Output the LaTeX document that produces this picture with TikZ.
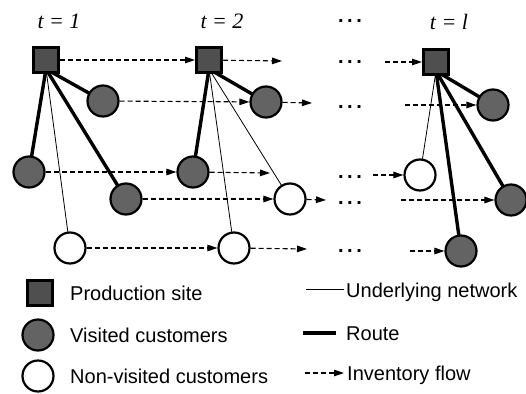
\documentclass[tikz,border=0pt]{standalone}
\usepackage{fontspec}
\setmainfont{Liberation Sans}
\newfontfamily\periodfont{Liberation Serif}
\usepackage{tikz}
\usetikzlibrary{arrows.meta,backgrounds}
\definecolor{SiteFill}{HTML}{4F4F4F}
\definecolor{VisitFill}{HTML}{636363}

\begin{document}
\begin{tikzpicture}[
    x=1pt,y=-1pt,
    every node/.style={font=\fontsize{20}{22}\selectfont},
    site/.style={draw,line width=3pt,fill=SiteFill,minimum size=25pt,inner sep=0pt},
    visited/.style={circle,draw,line width=2.2pt,fill=VisitFill,minimum size=31pt,inner sep=0pt},
    nonvisited/.style={visited,fill=white},
    period/.style={font=\periodfont\itshape\fontsize{22}{24}\selectfont},
    dots/.style={anchor=base,font=\bfseries\fontsize{20}{22}\selectfont},
    legend/.style={anchor=base west,inner sep=1pt},
    network/.style={line width=0.8pt},
    route/.style={line width=3.4pt},
    flow/.style={-{Triangle[length=10pt,width=6.5pt]},line width=1.1pt,dash pattern=on 5pt off 3pt}
  ]
  \useasboundingbox (0,0) rectangle (526,393);

  % period labels
  \node[period] (t1) at (59,21) {t = 1};
  \node[period] (t2) at (222,21) {t = 2};
  \node[dots] (d0) at (350,23) {.\hspace{3.5pt}.\hspace{3.5pt}.};
  \node[period] (tl) at (449,22) {t = l};

  % period 1
  \node[site] (p1) at (46,60) {};
  \node[visited] (a1) at (103,101) {};
  \node[visited] (b1) at (29,172) {};
  \node[visited] (c1) at (126,199) {};
  \node[nonvisited] (e1) at (70,248) {};

  % period 2
  \node[site] (p2) at (209,60) {};
  \node[visited] (a2) at (266,102) {};
  \node[visited] (b2) at (193,172) {};
  \node[nonvisited] (c2) at (290,199) {};
  \node[nonvisited] (e2) at (234,248) {};

  % period l
  \node[site] (pl) at (436,62) {};
  \node[visited] (al) at (493,105) {};
  \node[nonvisited] (bl) at (420,175) {};
  \node[visited] (cl) at (511,200) {};
  \node[visited] (el) at (461,251) {};

  % dots between periods
  \node[dots] (d1) at (350,64) {.\hspace{3.5pt}.\hspace{3.5pt}.};
  \node[dots] (d2) at (350,108) {.\hspace{3.5pt}.\hspace{3.5pt}.};
  \node[dots] (d3) at (350,178) {.\hspace{3.5pt}.\hspace{3.5pt}.};
  \node[dots] (d4) at (350,204) {.\hspace{3.5pt}.\hspace{3.5pt}.};
  \node[dots] (d5) at (350,252) {.\hspace{3.5pt}.\hspace{3.5pt}.};

  % network and routes, behind the nodes
  \begin{pgfonlayer}{background}
    \coordinate (o1) at ([yshift=-9pt]p1.center);
    \coordinate (o2) at ([yshift=-9pt]p2.center);
    \coordinate (ol) at ([yshift=-9pt]pl.center);
    \draw[route] (o1) -- (a1.center);
    \draw[route] (o1) -- (b1.center);
    \draw[route] (o1) -- (c1.center);
    \draw[network] (o1) -- (e1.center);
    \draw[route] (o2) -- (a2.center);
    \draw[route] (o2) -- (b2.center);
    \draw[network] (o2) -- (c2.center);
    \draw[network] (o2) -- (e2.center);
    \draw[route] (ol) -- (al.center);
    \draw[route] (ol) -- (cl.center);
    \draw[route] (ol) -- (el.center);
    \draw[network] (ol) -- (bl.center);
  \end{pgfonlayer}

  % inventory flows
  \coordinate (f0) at (282,61);
  \coordinate (g0) at (385,62);
  \coordinate (f1) at (312,103);
  \coordinate (g1) at (405,105);
  \coordinate (f2) at (270,173);
  \coordinate (g2) at (373,175);
  \coordinate (f3) at (326,200);
  \coordinate (g3) at (401,200);
  \coordinate (f4) at (307,249);
  \coordinate (g4) at (410,251);
  \draw[flow] (p1) -- (p2);
  \draw[flow] (p2) -- (f0);
  \draw[flow] (g0) -- (pl);
  \draw[flow] (a1) -- (a2);
  \draw[flow] (a2) -- (f1);
  \draw[flow] (g1) -- (al);
  \draw[flow] (b1) -- (b2);
  \draw[flow] (b2) -- (f2);
  \draw[flow] (g2) -- (bl);
  \draw[flow] (c1) -- (c2);
  \draw[flow] (c2) -- (f3);
  \draw[flow] (g3) -- (cl);
  \draw[flow] (e1) -- (e2);
  \draw[flow] (e2) -- (f4);
  \draw[flow] (g4) -- (el);

  % legend
  \node[site] (ls) at (40,293) {};
  \node[legend] (lst) at (69,300) {Production site};
  \node[visited] (lv) at (38,335) {};
  \node[legend] (lvt) at (69,342) {Visited customers};
  \node[nonvisited] (ln) at (38,376) {};
  \node[legend] (lnt) at (69,383) {Non-visited customers};

  \coordinate (u0) at (306,289);
  \coordinate (u1) at (344,289);
  \node[legend] (ut) at (345,297) {Underlying network};
  \coordinate (r0) at (303,333);
  \coordinate (r1) at (336,333);
  \node[legend] (rt) at (345,340) {Route};
  \coordinate (v0) at (305,373);
  \coordinate (v1) at (344,373);
  \node[legend] (vt) at (346,380) {Inventory flow};
  \draw[network] (u0) -- (u1);
  \draw[route] (r0) -- (r1);
  \draw[flow] (v0) -- (v1);
\end{tikzpicture}
\end{document}
